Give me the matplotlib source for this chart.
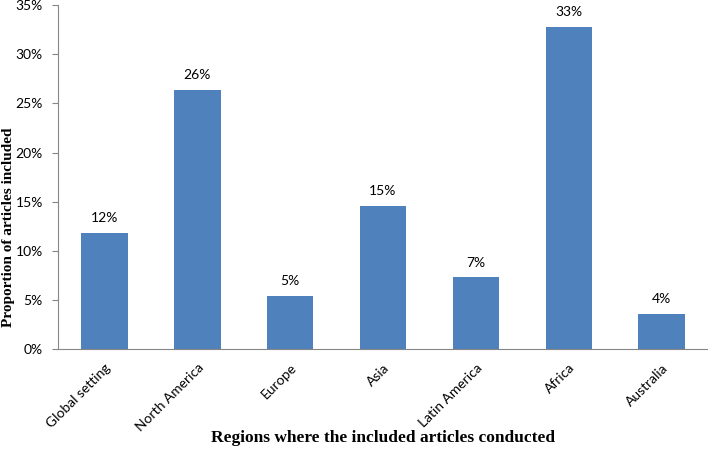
import matplotlib.pyplot as plt
from matplotlib.ticker import PercentFormatter

regions = ["Global setting", "North America", "Europe", "Asia",
           "Latin America", "Africa", "Australia"]
shares = [11.8, 26.4, 5.4, 14.6, 7.3, 32.8, 3.6]
labels = ["12%", "26%", "5%", "15%", "7%", "33%", "4%"]

tick_font = "Lato"
label_font = "Liberation Serif"

fig = plt.figure(figsize=(7.08, 4.57), dpi=100)
ax = fig.add_axes([0.082, 0.236, 0.918, 0.753])

x = range(len(regions))
bars = ax.bar(x, shares, width=0.5, color="#4F81BD")

for b, lab in zip(bars, labels):
    ax.text(b.get_x() + b.get_width() / 2, b.get_height() + 0.9, lab,
            ha="center", va="bottom", fontsize=10, family=tick_font)

ax.set_xlim(-0.5, len(regions) - 0.5)
ax.set_ylim(0, 35)
ax.set_yticks(range(0, 36, 5))
ax.yaxis.set_major_formatter(PercentFormatter(decimals=0))

ax.set_xticks(list(x))
ax.set_xticklabels(regions, rotation=45, ha="right", rotation_mode="anchor",
                   fontsize=10, family=tick_font)
for t in ax.get_yticklabels():
    t.set_family(tick_font)
    t.set_fontsize(10)

ax.tick_params(axis="x", length=0, pad=9)
ax.tick_params(axis="y", length=4, color="#868686", pad=7)

for s in ["top", "right"]:
    ax.spines[s].set_visible(False)
for s in ["left", "bottom"]:
    ax.spines[s].set_color("#868686")

ax.set_ylabel("Proportion of articles included", family=label_font,
              fontweight="bold", fontsize=11)
ax.yaxis.set_label_coords(-0.077, 0.355)
ax.set_xlabel("Regions where the included articles conducted",
              family=label_font, fontweight="bold", fontsize=12.5)
ax.xaxis.set_label_coords(0.5, -0.258)
ax.xaxis.label.set_va("center")
ax.yaxis.label.set_va("center")

fig.savefig("out.png", dpi=100)
